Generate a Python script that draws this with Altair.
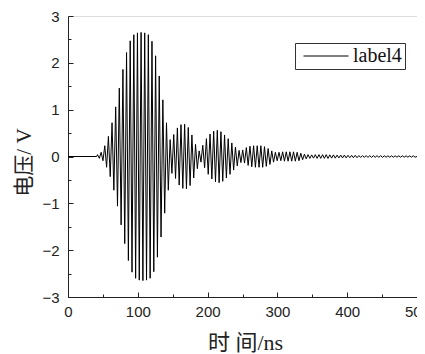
import altair as alt
import pandas as pd

# ---- data ----
t_flat_end = 41.0          # ns, signal is flat before this
carrier_period = 5.2       # ns, one oscillation cycle
# peak amplitude (V) of each successive oscillation cycle
cycle_amplitude = [
    0.04, 0.09, 0.23, 0.43, 0.72, 1.06, 1.46, 1.86, 2.22, 2.47,
    2.60, 2.64, 2.65, 2.64, 2.60, 2.46, 2.15, 1.72, 1.21, 0.72,
    0.36, 0.47, 0.61, 0.68, 0.69, 0.62, 0.46, 0.26, 0.12, 0.24,
    0.38, 0.48, 0.54, 0.56, 0.53, 0.46, 0.38, 0.29, 0.20, 0.13,
    0.14, 0.19, 0.22, 0.23, 0.23, 0.23, 0.21, 0.17, 0.12, 0.09,
    0.09, 0.10, 0.10, 0.10, 0.10, 0.09, 0.07, 0.05, 0.04, 0.035,
    0.04, 0.04, 0.04, 0.04, 0.035, 0.035, 0.03, 0.03, 0.03, 0.025,
    0.025, 0.025, 0.02, 0.02, 0.02, 0.02, 0.02, 0.02, 0.02, 0.015,
    0.015, 0.015, 0.015, 0.015, 0.015, 0.015, 0.015, 0.015,
]
t_end = 500.0
x_major = [0, 100, 200, 300, 400, 500]
x_all_ticks = [0, 50, 100, 150, 200, 250, 300, 350, 400, 450, 500]
y_major = [-3, -2, -1, 0, 1, 2, 3]
y_all_ticks = [-3, -2.5, -2, -1.5, -1, -0.5, 0, 0.5, 1, 1.5, 2, 2.5, 3]
series_name = "label4"
x_title = "时 间/ns"
y_title = "电压/ V"

rows = [(0.0, 0.0), (t_flat_end, 0.0)]
for k, a in enumerate(cycle_amplitude):
    t0 = t_flat_end + k * carrier_period
    rows.append((t0 + carrier_period / 4, a))
    rows.append((t0 + 3 * carrier_period / 4, -a))
rows.append((t_end, 0.0))
df = pd.DataFrame(rows, columns=["t", "v"])
df["s"] = series_name
df["o"] = range(len(df))

W, H = 349, 281
LEFT = 60
LAT = "Liberation Sans"
TITLEF = "Liberation Serif, Noto Sans CJK SC"

xs = alt.Scale(domain=[0, 500], nice=False, zero=False)
ys = alt.Scale(domain=[-3, 3], nice=False, zero=False)

tick_len = {"condition": {"test": "datum.value % 100 !== 0", "value": 3}, "value": 5}
tick_len_y = {"condition": {"test": "datum.value % 1 !== 0", "value": 3}, "value": 5}

main = alt.Chart(df).mark_line(strokeWidth=1, color="black").encode(
    x=alt.X("t:Q", scale=xs, axis=alt.Axis(
        orient="bottom", values=x_major, ticks=False, tickSize=0, grid=False,
        labelFlush=False, labelOverlap=False,
        domainColor="#222", labelFont=LAT, labelFontSize=15, labelColor="#222",
        labelPadding=7, title=x_title, titleFont=TITLEF, titleFontSize=22,
        titleFontWeight="normal", titleColor="#222", titleX=177, titleY=45,
        titleAlign="center", titleBaseline="middle")),
    y=alt.Y("v:Q", scale=ys, axis=alt.Axis(
        orient="left", values=y_major, ticks=False, tickSize=0, grid=False,
        labelFlush=False, labelOverlap=False,
        domainColor="#222", labelFont=LAT, labelFontSize=15, labelColor="#222",
        labelPadding=9, title=y_title, titleFont=TITLEF, titleFontSize=21,
        titleFontWeight="normal", titleColor="#222", titleX=-44, titleY=146,
        titleAngle=-90, titleAlign="center", titleBaseline="middle")),
    color=alt.Color("s:N", scale=alt.Scale(range=["black"]), legend=alt.Legend(
        title=None, orient="none", legendX=227, legendY=27, strokeColor="#333",
        padding=3, symbolType="M-1,0H9", symbolSize=81, symbolStrokeWidth=1,
        symbolStrokeColor="black", symbolFillColor="transparent",
        labelFont="Liberation Serif", labelFontSize=20, labelColor="#111",
        labelOffset=35, fillColor="white")),
    order="o:Q",
)

ticks_layer = alt.Chart(df).mark_line(strokeOpacity=0).encode(
    x=alt.X("t:Q", scale=xs, axis=alt.Axis(
        orient="top", offset=-H, values=x_all_ticks, labels=False, domain=False,
        grid=False, tickColor="#222", tickSize=tick_len, title=None)),
    y=alt.Y("v:Q", scale=ys, axis=alt.Axis(
        orient="right", offset=-W, values=y_all_ticks, labels=False, domain=False,
        grid=False, tickColor="#222", tickSize=tick_len_y, title=None)),
    order="o:Q",
)

chart = alt.layer(main, ticks_layer).properties(
    width=W, height=H,
    autosize=alt.AutoSizeParams(type="none"),
    padding={"left": LEFT, "top": 8, "right": 0, "bottom": 57},
).configure_view(stroke=None).configure(background="white")

chart.save("out.html", embed_options={"renderer": "svg", "actions": False})
